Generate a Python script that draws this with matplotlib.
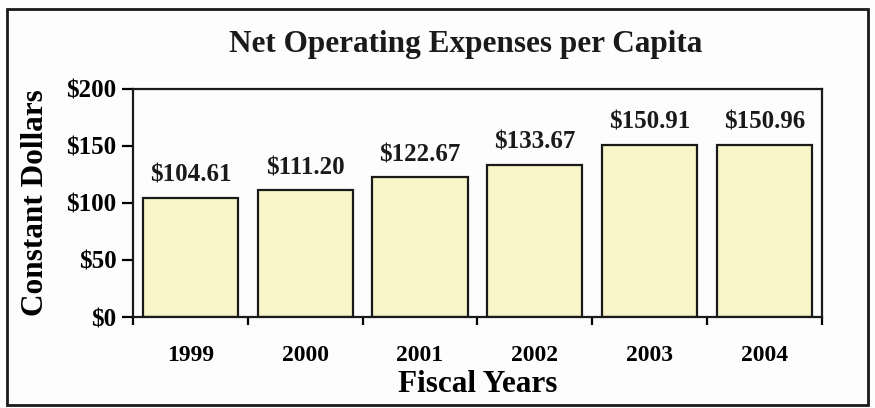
import numpy as np
import matplotlib.pyplot as plt
from matplotlib.patches import Rectangle

years = ['1999', '2000', '2001', '2002', '2003', '2004']
expense = [104.61, 111.20, 122.67, 133.67, 150.91, 150.96]
yticks = [0, 50, 100, 150, 200]

plt.rcParams['font.family'] = ['Liberation Serif', 'DejaVu Serif']
plt.rcParams['font.weight'] = 'bold'

fig = plt.figure(figsize=(8.75, 4.08), dpi=100)
fig.patch.set_facecolor('#fdfdfd')
ax = fig.add_axes([0.152, 0.223, 0.787, 0.559])

x = np.arange(len(years))
ax.bar(x, expense, width=0.83, color='#f8f6c8', edgecolor='#1a1a1a', linewidth=1.6)
for xi, v in zip(x, expense):
    ax.annotate('${:.2f}'.format(v), (xi, v), xytext=(0, 8), textcoords='offset points',
                ha='center', va='bottom', fontsize=18, fontweight='bold', color='#1a1a1a')

ax.set_xlim(-0.5, len(years) - 0.5)
ax.set_ylim(0, 200)
ax.set_yticks(yticks)
ax.set_yticklabels(['${}'.format(t) for t in yticks])

# ticks at category boundaries, labels at centres
ax.set_xticks(np.arange(len(years) + 1) - 0.5)
ax.set_xticklabels([])
ax.set_xticks(x, minor=True)
ax.set_xticklabels(years, minor=True)
ax.tick_params(axis='x', which='major', length=6, width=1.6, direction='out')
ax.tick_params(axis='x', which='minor', length=0, pad=20, labelsize=17)
ax.tick_params(axis='y', length=8, width=1.6, direction='out', labelsize=18, pad=4)

for s in ax.spines.values():
    s.set_linewidth(1.6)
    s.set_color('#1a1a1a')
ax.set_facecolor('#fdfdfd')

ax.set_xlabel('Fiscal Years', fontsize=22.5, fontweight='bold', labelpad=3)
ax.set_ylabel('Constant Dollars', fontsize=22.5, fontweight='bold', labelpad=12)
fig.text(0.532, 0.89, 'Net Operating Expenses per Capita', ha='center', va='center',
         fontsize=22.5, fontweight='bold', color='#1a1a1a')

# outer frame
fig.patches.append(Rectangle((0.008, 0.008), 0.984, 0.97, transform=fig.transFigure,
                             fill=False, edgecolor='#1a1a1a', linewidth=2))

fig.savefig('out.png', dpi=100)
